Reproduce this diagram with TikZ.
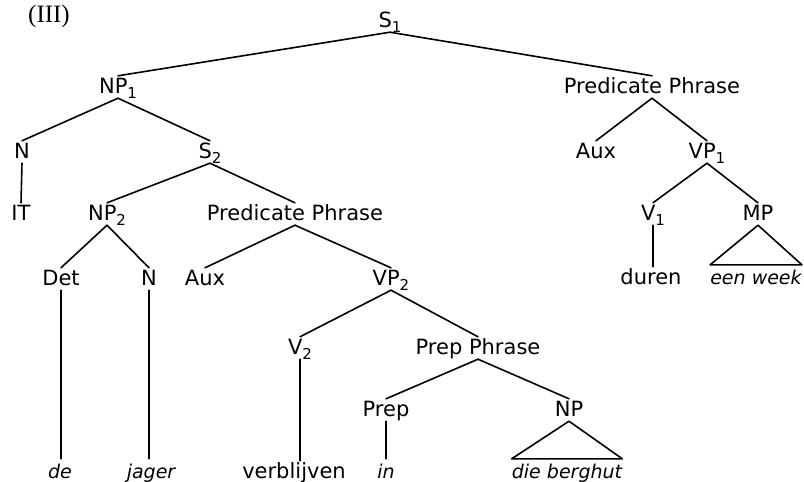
\documentclass[tikz,border=0pt]{standalone}
\usepackage{fontspec}
\setmainfont{DejaVu Sans}
\newfontfamily\numberfont{Liberation Serif}
\newcommand{\idx}[1]{\raisebox{-0.45ex}{\fontsize{15}{15}\selectfont #1}}

\begin{document}
\begin{tikzpicture}[
    x=1pt, y=-1pt,
    cat/.style={
        font=\fontsize{21}{25}\selectfont,
        anchor=base,
        inner sep=2pt,
        text height=15pt,
        text depth=3pt,
    },
    word/.style={
        cat,
        font=\fontsize{19}{23}\selectfont\itshape,
        inner xsep=0pt,
        inner ysep=3pt,
        text height=16pt,
    },
    branch/.style={
        line width=1.6pt,
        line cap=round,
        line join=round,
    }
]
    \useasboundingbox (0,0) rectangle (804,482);

    % Number
    \node[font=\numberfont\fontsize{25}{30}\selectfont, anchor=base] (numlbl) at (49,22) {(III)};

    % Categories
    \node[cat] (s1) at (390,27) {S\idx{1}};
    \node[cat] (np1) at (118,93) {NP\idx{1}};
    \node[cat] (predr) at (652,93) {Predicate Phrase};
    \node[cat] (n1) at (22,158) {N};
    \node[cat] (s2) at (210,158) {S\idx{2}};
    \node[cat] (auxr) at (596,158) {Aux};
    \node[cat] (vp1) at (707,158) {VP\idx{1}};
    \node[cat] (it) at (21,220) {IT};
    \node[cat] (np2) at (107,220) {NP\idx{2}};
    \node[cat] (predm) at (295,220) {Predicate Phrase};
    \node[cat] (v1) at (653,220) {V\idx{1}};
    \node[cat] (mp) at (758,220) {MP};
    \node[cat] (det) at (61,285) {Det};
    \node[cat] (n2) at (149,285) {N};
    \node[cat] (auxm) at (205,285) {Aux};
    \node[cat] (vp2) at (391,285) {VP\idx{2}};
    \node[cat] (v2) at (300,354) {V\idx{2}};
    \node[cat] (pp) at (478,354) {Prep Phrase};
    \node[cat] (prep) at (386,416) {Prep};
    \node[cat] (np3) at (569,416) {NP};

    % Words
    \node[cat] (duren) at (651,284) {duren};
    \node[word] (week) at (756,284) {een week};
    \node[word] (de) at (60,478) {de};
    \node[word] (jager) at (151,478) {jager};
    \node[cat] (verb) at (294,478) {verblijven};
    \node[word] (inw) at (386,478) {in};
    \node[word] (hut) at (567,478) {die berghut};

    % Branches
    \draw[branch] (s1.south) -- (np1.north);
    \draw[branch] (s1.south) -- (predr.north);
    \draw[branch] (np1.south) -- (n1.north);
    \draw[branch] (np1.south) -- (s2.north);
    \draw[branch] (n1.south) -- (it.north);
    \draw[branch] (s2.south) -- (np2.north);
    \draw[branch] (s2.south) -- (predm.north);
    \draw[branch] (np2.south) -- (det.north);
    \draw[branch] (np2.south) -- (n2.north);
    \draw[branch] (predm.south) -- (auxm.north);
    \draw[branch] (predm.south) -- (vp2.north);
    \draw[branch] (vp2.south) -- (v2.north);
    \draw[branch] (vp2.south) -- (pp.north);
    \draw[branch] (pp.south) -- (prep.north);
    \draw[branch] (pp.south) -- (np3.north);
    \draw[branch] (predr.south) -- (auxr.north);
    \draw[branch] (predr.south) -- (vp1.north);
    \draw[branch] (vp1.south) -- (v1.north);
    \draw[branch] (vp1.south) -- (mp.north);

    % Unary branches to words
    \draw[branch] (det.south) -- (det.south |- de.north);
    \draw[branch] (n2.south) -- (n2.south |- jager.north);
    \draw[branch] (v2.south) -- (v2.south |- verb.north);
    \draw[branch] (prep.south) -- (prep.south |- inw.north);
    \draw[branch] (v1.south) -- (v1.south |- duren.north);

    % Triangles
    \draw[branch] (np3.south) -- (hut.north west) -- (hut.north east) -- cycle;
    \draw[branch] (mp.south) -- (week.north west) -- (week.north east) -- cycle;
\end{tikzpicture}
\end{document}
